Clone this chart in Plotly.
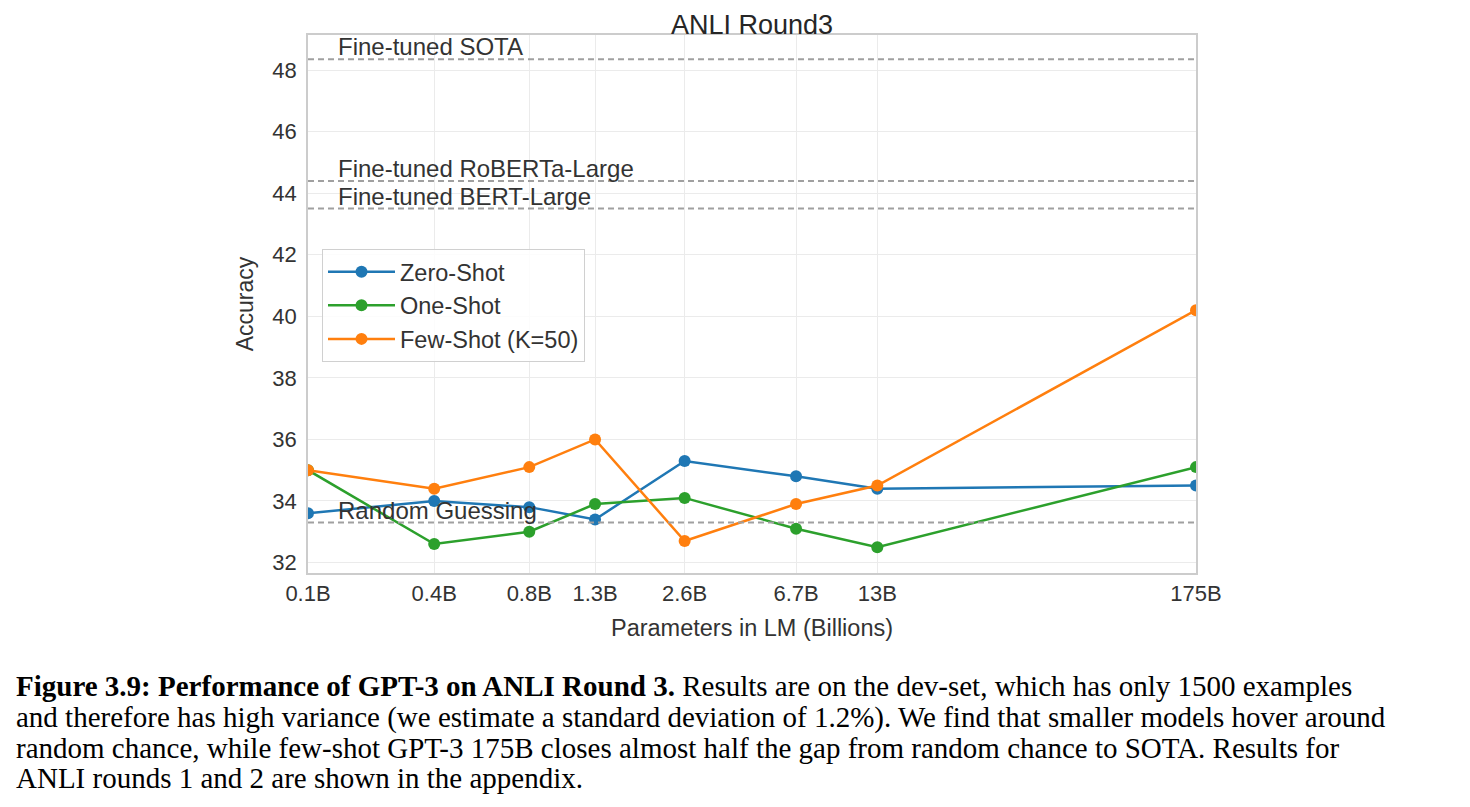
import plotly.graph_objects as go
import math

# ---- data ----
params = [0.125, 0.35, 0.76, 1.3, 2.7, 6.7, 13, 175]
tick_labels = ["0.1B", "0.4B", "0.8B", "1.3B", "2.6B", "6.7B", "13B", "175B"]
zero_shot = [33.6, 34.0, 33.8, 33.4, 35.3, 34.8, 34.4, 34.5]
one_shot = [35.0, 32.6, 33.0, 33.9, 34.1, 33.1, 32.5, 35.1]
few_shot = [35.0, 34.4, 35.1, 36.0, 32.7, 33.9, 34.5, 40.2]
ref_labels = ["Fine-tuned SOTA", "Fine-tuned RoBERTa-Large", "Fine-tuned BERT-Large", "Random Guessing"]
ref_values = [48.35, 44.4, 43.5, 33.3]
series_names = ["Zero-Shot", "One-Shot", "Few-Shot (K=50)"]
series_colors = ["#1f77b4", "#2ca02c", "#ff7f0e"]

caption_lines = [
    "<b>Figure 3.9: Performance of GPT-3 on ANLI Round 3.</b> Results are on the dev-set, which has only 1500 examples",
    "and therefore has high variance (we estimate a standard deviation of 1.2%). We find that smaller models hover around",
    "random chance, while few-shot GPT-3 175B closes almost half the gap from random chance to SOTA. Results for",
    "ANLI rounds 1 and 2 are shown in the appendix.",
]

W, H = 1470, 807
OFF = 8  # page body margin
L, R, T, B = 308 - OFF, 1470 - 1196 + OFF, 35 - OFF, 807 - 573 + OFF
PW, PH = W - L - R, H - T - B

fig = go.Figure()
for name, vals, col in zip(series_names, [zero_shot, one_shot, few_shot], series_colors):
    fig.add_trace(go.Scatter(
        x=params, y=vals, name=name, mode="lines+markers",
        line=dict(color=col, width=2.5),
        marker=dict(color=col, size=12),
    ))

shapes = []
annotations = []
for lab, v in zip(ref_labels, ref_values):
    shapes.append(dict(type="line", xref="x domain", yref="y", x0=0, x1=1, y0=v, y1=v,
                       line=dict(color="#a0a0a0", width=2, dash="6px,4px"), layer="above"))
    annotations.append(dict(text=lab, xref="x domain", yref="y", x=0.031, y=v,
                            xanchor="left", yanchor="bottom", showarrow=False, yshift=-3,
                            font=dict(family="Liberation Sans, Arial", size=24, color="#333333")))

ypos = [686, 717, 748, 778]
for line, yp in zip(caption_lines, ypos):
    annotations.append(dict(text=line, xref="paper", yref="paper",
                            x=(14 - OFF - L) / PW, y=(H - B - (yp - OFF)) / PH,
                            xanchor="left", yanchor="middle", showarrow=False,
                            font=dict(family="Liberation Serif, Times New Roman", size=29, color="#000000")))

fig.update_layout(
    width=W, height=H,
    margin=dict(l=L, r=R, t=T, b=B),
    paper_bgcolor="white", plot_bgcolor="white",
    font=dict(family="Liberation Sans, Arial", color="#333333"),
    title=dict(text="ANLI Round3", x=(L + PW / 2) / W, xanchor="center",
               y=1 - 17 / H, yanchor="middle", font=dict(size=27, color="#262626")),
    showlegend=True,
    legend=dict(x=(322 - 308) / PW, y=(573 - 249) / PH, xanchor="left", yanchor="top",
                bgcolor="rgba(255,255,255,0.85)", bordercolor="#d0d0d0", borderwidth=1,
                font=dict(size=23.5, color="#333333"), itemwidth=67),
    shapes=shapes,
    annotations=annotations,
)

fig.update_xaxes(
    type="log", range=[math.log10(params[0]), math.log10(params[-1])],
    tickvals=params, ticktext=tick_labels, tickfont=dict(size=22, color="#333333"),
    showgrid=True, gridcolor="#ebebeb", gridwidth=1, zeroline=False,
    showline=True, linecolor="#cccccc", linewidth=1.5, mirror=True, ticks="",
    title=dict(text="Parameters in LM (Billions)", font=dict(size=23.5, color="#333333"), standoff=14),
)
fig.update_yaxes(
    range=[31.66, 49.14], tickvals=[32, 34, 36, 38, 40, 42, 44, 46, 48],
    tickfont=dict(size=22, color="#333333"), ticklabelstandoff=5,
    showgrid=True, gridcolor="#ebebeb", gridwidth=1, zeroline=False,
    showline=True, linecolor="#cccccc", linewidth=1.5, mirror=True, ticks="",
    title=dict(text="Accuracy", font=dict(size=23, color="#333333"), standoff=12),
)

fig.write_html("out.html")
